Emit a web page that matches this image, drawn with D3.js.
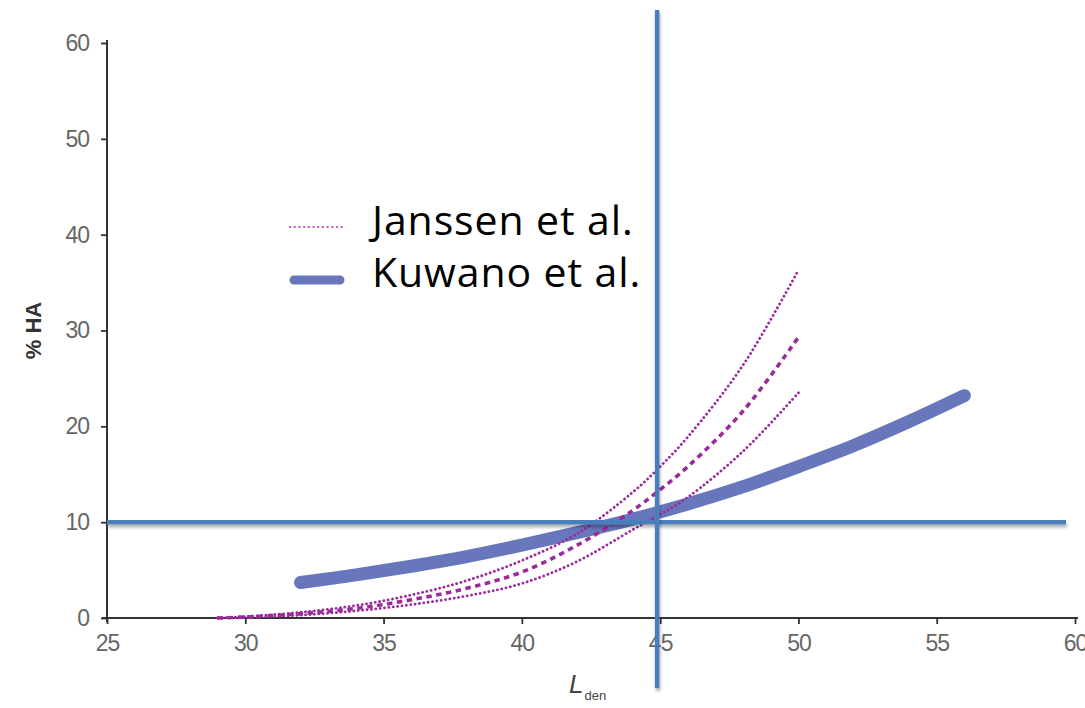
<!DOCTYPE html>
<html>
<head>
<meta charset="utf-8">
<script src="https://cdn.jsdelivr.net/npm/d3@7"></script>
<style>
  html, body { margin: 0; padding: 0; background: #fff; }
  svg { display: block; }
</style>
</head>
<body>
<svg id="chart" width="1085" height="708"></svg>
<script>
// Noise level Lden (dB) against % highly annoyed
const xTicks = [25, 30, 35, 40, 45, 50, 55, 60];
const yTicks = [0, 10, 20, 30, 40, 50, 60];

// Janssen et al.: central estimate (dashed) with upper and lower bounds (dotted)
const janssenL     = [29, 30, 32, 34, 36, 38, 40, 42, 44, 45, 46, 48, 50];
const janssenUpper = [0, 0.15, 0.6, 1.3, 2.4, 3.9, 6.0, 8.8, 13.1, 15.8, 18.9, 26.4, 36.3];
const janssenMid   = [0, 0.1, 0.45, 1.0, 1.9, 3.1, 4.8, 7.6, 11.2, 13.4, 15.8, 21.6, 29.3];
const janssenLower = [0, 0.05, 0.3, 0.75, 1.4, 2.3, 3.6, 5.9, 9.2, 10.8, 12.6, 17.4, 23.5];

// Kuwano et al.
const kuwanoL  = [32, 34, 36, 38, 40, 42, 44, 46, 48, 50, 52, 54, 56];
const kuwanoHA = [3.7, 4.5, 5.4, 6.4, 7.6, 8.9, 10.3, 11.9, 13.7, 15.8, 18.0, 20.5, 23.2];

// Reference lines
const refL = 45;
const refHA = 10;

const legendLabels = ["Janssen et al.", "Kuwano et al."];

const svg = d3.select("#chart");
const x = d3.scaleLinear().domain([25, 60]).range([107, 1075]);
const y = d3.scaleLinear().domain([0, 60]).range([618, 43]);

const defs = svg.append("defs");
const shadow = defs.append("filter").attr("id", "shadow")
  .attr("filterUnits", "userSpaceOnUse")
  .attr("x", 0).attr("y", 0).attr("width", 1085).attr("height", 708);
shadow.append("feDropShadow")
  .attr("dx", 1).attr("dy", 3).attr("stdDeviation", 1.8)
  .attr("flood-color", "#000").attr("flood-opacity", 0.3);

const tickFont = "'Liberation Sans', Arial, sans-serif";

// Axes
const yAxis = svg.append("g").attr("transform", `translate(${x(25)},0)`)
  .call(d3.axisLeft(y).tickValues(yTicks).tickSize(6).tickSizeOuter(0).tickPadding(12));
const xAxis = svg.append("g").attr("transform", `translate(0,${y(0)})`)
  .call(d3.axisBottom(x).tickValues(xTicks).tickSize(6).tickSizeOuter(0).tickPadding(11));

[xAxis, yAxis].forEach(g => {
  g.select(".domain").attr("stroke", "#333").attr("stroke-width", 2);
  g.selectAll(".tick line").attr("stroke", "#333").attr("stroke-width", 1.8);
  g.selectAll(".tick text")
    .attr("font-family", tickFont).attr("font-size", 23).attr("fill", "#666")
    .attr("letter-spacing", -1);
});
yAxis.select(".domain").attr("d", `M0,${y(60) - 3}V${y(0) + 4}`);
xAxis.select(".domain").attr("d", `M${x(25) - 5},0H${x(60) + 3}`);

// Axis titles
svg.append("text")
  .attr("transform", `translate(41,${y(30)}) rotate(-90)`)
  .attr("text-anchor", "middle")
  .attr("font-family", tickFont).attr("font-weight", "bold")
  .attr("font-size", 22).attr("fill", "#333")
  .text("% HA");

const xTitle = svg.append("text")
  .attr("x", 569).attr("y", 693)
  .attr("font-family", tickFont).attr("fill", "#444");
xTitle.append("tspan").attr("font-style", "italic").attr("font-size", 26).text("L");
xTitle.append("tspan").attr("font-size", 13).attr("dx", 1).attr("dy", 7).text("den");

// Curves
const line = d3.line().x(d => x(d[0])).y(d => y(d[1])).curve(d3.curveCatmullRom);
const pairs = (xs, ys) => xs.map((v, i) => [v, ys[i]]);

const purple = "#9a2b98";

svg.append("path").datum(pairs(kuwanoL, kuwanoHA))
  .attr("d", line).attr("fill", "none")
  .attr("stroke", "#6877bb").attr("stroke-width", 13)
  .attr("stroke-linecap", "round").attr("stroke-linejoin", "round");

[janssenUpper, janssenLower].forEach(ys => {
  svg.append("path").datum(pairs(janssenL, ys))
    .attr("d", line).attr("fill", "none")
    .attr("stroke", purple).attr("stroke-width", 2.8)
    .attr("stroke-linecap", "round").attr("stroke-dasharray", "0.1,4.3");
});
svg.append("path").datum(pairs(janssenL, janssenMid))
  .attr("d", line).attr("fill", "none")
  .attr("stroke", purple).attr("stroke-width", 3.6)
  .attr("stroke-dasharray", "5.5,4.5");

// Reference crosshair at Lden 45 dB and 10 % HA
svg.append("line")
  .attr("x1", x(25)).attr("x2", 1066)
  .attr("y1", y(refHA)).attr("y2", y(refHA))
  .attr("stroke", "#4a7ebb").attr("stroke-width", 4.5)
  .attr("filter", "url(#shadow)");
svg.append("line")
  .attr("x1", x(refL) - 3).attr("x2", x(refL) - 3)
  .attr("y1", 10).attr("y2", 688)
  .attr("stroke", "#4a7ebb").attr("stroke-width", 4.5)
  .attr("filter", "url(#shadow)");

// Legend
const legend = svg.append("g");
legend.append("line")
  .attr("x1", 290).attr("x2", 342).attr("y1", 227).attr("y2", 227)
  .attr("stroke", "#b048b0").attr("stroke-width", 2.2)
  .attr("stroke-linecap", "round").attr("stroke-dasharray", "0.1,4.6");
legend.append("line")
  .attr("x1", 294).attr("x2", 340).attr("y1", 280).attr("y2", 280)
  .attr("stroke", "#6877bb").attr("stroke-width", 9).attr("stroke-linecap", "round");

legend.selectAll("text.lab").data(legendLabels).join("text")
  .attr("class", "lab")
  .attr("x", 372).attr("y", (d, i) => 235 + i * 52)
  .attr("font-family", "'Open Sans', 'Noto Sans', sans-serif")
  .attr("font-size", 41).attr("letter-spacing", 0.9).attr("fill", "#000")
  .text(d => d);
</script>
</body>
</html>
